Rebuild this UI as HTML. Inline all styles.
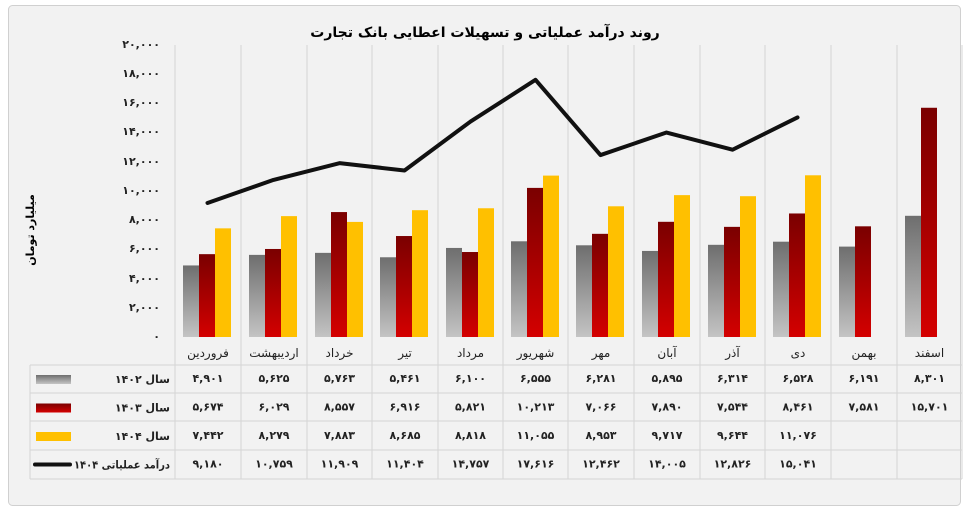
<!DOCTYPE html>
<html><head><meta charset="utf-8"><style>
html,body{margin:0;padding:0;background:#fff;}
svg{display:block;font-family:"DejaVu Sans","Liberation Sans",sans-serif;}
</style></head><body>
<svg width="970" height="512" viewBox="0 0 970 512" xmlns="http://www.w3.org/2000/svg">
<defs>
<linearGradient id="gg" x1="0" y1="0" x2="0" y2="1"><stop offset="0" stop-color="#6e6e6e"/><stop offset="1" stop-color="#c4c4c4"/></linearGradient>
<linearGradient id="gr" x1="0" y1="0" x2="0" y2="1"><stop offset="0" stop-color="#7a0000"/><stop offset="1" stop-color="#d40000"/></linearGradient>
<linearGradient id="gy" x1="0" y1="0" x2="0" y2="1"><stop offset="0" stop-color="#ffc000"/><stop offset="1" stop-color="#ffc000"/></linearGradient>
</defs>
<rect x="8.5" y="5.5" width="952" height="500" rx="4" fill="#f2f2f2" stroke="#d0d0d0"/>
<text x="485" y="37" text-anchor="middle" font-size="14" font-weight="bold">روند درآمد عملیاتی و تسهیلات اعطایی بانک تجارت</text>
<g font-size="11" font-weight="bold" text-anchor="end" fill="#222">
<text x="160" y="48">۲۰,۰۰۰</text><text x="160" y="77">۱۸,۰۰۰</text><text x="160" y="106">۱۶,۰۰۰</text><text x="160" y="135">۱۴,۰۰۰</text><text x="160" y="165">۱۲,۰۰۰</text><text x="160" y="194">۱۰,۰۰۰</text><text x="160" y="223">۸,۰۰۰</text><text x="160" y="252">۶,۰۰۰</text><text x="160" y="282">۴,۰۰۰</text><text x="160" y="311">۲,۰۰۰</text><text x="160" y="340">۰</text>
</g>
<text transform="translate(34,230) rotate(-90)" text-anchor="middle" font-size="11" font-weight="bold">میلیارد تومان</text>
<g id="chart"></g>
<g id="tbl"></g>
<script>
const S='http://www.w3.org/2000/svg';
function el(t,a,p,txt){const e=document.createElementNS(S,t);for(const k in a)e.setAttribute(k,a[k]);if(txt!==undefined)e.textContent=txt;(p||document.getElementById('chart')).appendChild(e);return e;}
const cols=[175,241,307,372,438,503,568,634,700,765,831,897,962];
const names=['فروردین','اردیبهشت','خرداد','تیر','مرداد','شهریور','مهر','آبان','آذر','دی','بهمن','اسفند'];
const a=[4901,5625,5763,5461,6100,6555,6281,5895,6314,6528,6191,8301];
const b=[5674,6029,8557,6916,5821,10213,7066,7890,7544,8461,7581,15701];
const c=[7442,8279,7883,8685,8818,11055,8953,9717,9644,11076,null,null];
const d=[9180,10759,11909,11404,14757,17616,12462,14005,12826,15041,null,null];
const fa=n=>n.toLocaleString('en-US').replace(/\d/g,x=>'۰۱۲۳۴۵۶۷۸۹'[x]);
const Y=v=>337-v*0.0146;
const T=document.getElementById('tbl');
for(let i=0;i<13;i++)el('line',{x1:cols[i],y1:45,x2:cols[i],y2:479,stroke:'#d4d4d4','stroke-width':1});
let pts=[];
for(let i=0;i<12;i++){const x=cols[i];
 el('rect',{x:x+8,y:Y(a[i]),width:16,height:337-Y(a[i]),fill:'url(#gg)'});
 el('rect',{x:x+24,y:Y(b[i]),width:16,height:337-Y(b[i]),fill:'url(#gr)'});
 if(c[i])el('rect',{x:x+40,y:Y(c[i]),width:16,height:337-Y(c[i]),fill:'url(#gy)'});
 if(d[i])pts.push((x+32.5)+','+Y(d[i]));
 const cx=(x+cols[i+1])/2;
 el('text',{x:cx,y:357,'text-anchor':'middle','font-size':12,fill:'#222'},T,names[i]);
 [a,b,c,d].forEach((r,j)=>{if(r[i])el('text',{x:cx,y:382+j*28.5,'text-anchor':'middle','font-size':11,'font-weight':'bold',fill:'#222'},T,fa(r[i]));});
}
el('polyline',{points:pts.join(' '),fill:'none',stroke:'#111','stroke-width':4,'stroke-linejoin':'round','stroke-linecap':'round'});
[365,393,421,450,479].forEach(y=>el('line',{x1:30,y1:y,x2:962,y2:y,stroke:'#d4d4d4'},T));
el('line',{x1:30,y1:365,x2:30,y2:479,stroke:'#d4d4d4'},T);
const labs=['سال ۱۴۰۲','سال ۱۴۰۳','سال ۱۴۰۴','درآمد عملیاتی ۱۴۰۴'];
const fills=['url(#gg)','url(#gr)','#ffc000'];
labs.forEach((l,j)=>{const y=379+j*28.5;
 if(j<3)el('rect',{x:36,y:y-4,width:35,height:9,fill:fills[j]},T);
 else el('line',{x1:35,y1:y,x2:70,y2:y,stroke:'#111','stroke-width':4,'stroke-linecap':'round'},T);
 const at={x:170,y:y+4,'text-anchor':'end','font-size':11,'font-weight':'bold',fill:'#222'};
 if(j==3){at.textLength=96;at.lengthAdjust='spacingAndGlyphs';at.x=74;at['text-anchor']='start';}
 el('text',at,T,l);
});
</script>
</svg>
</body></html>
